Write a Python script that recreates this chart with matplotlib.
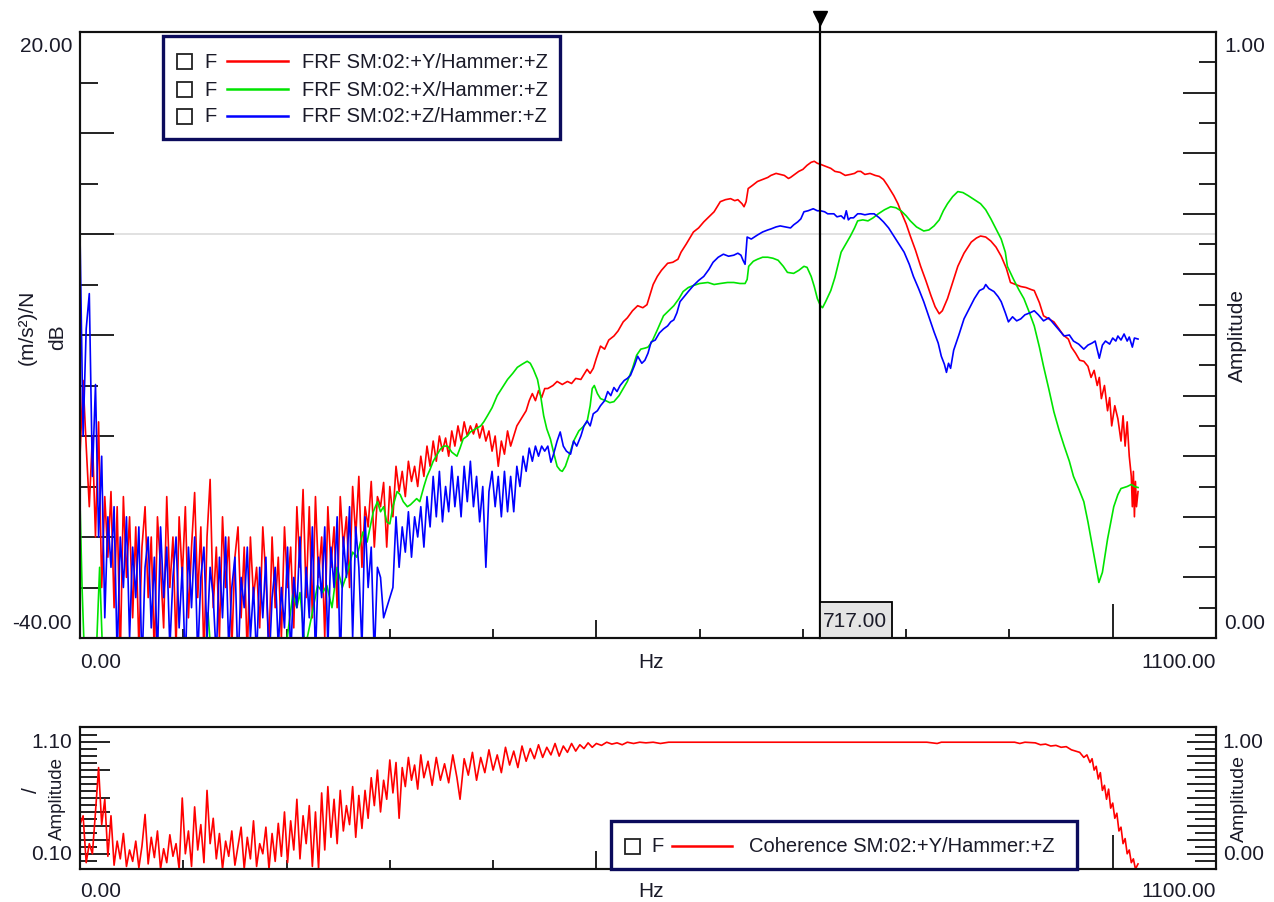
import numpy as np
import matplotlib
matplotlib.use("Agg")
import matplotlib.pyplot as plt
from matplotlib.patches import Rectangle
from matplotlib.lines import Line2D
from matplotlib.transforms import blended_transform_factory

plt.rcParams['font.family'] = ['Liberation Sans', 'DejaVu Sans']

# ------------------------------------------------------------------ data
X_MIN, X_MAX = 0.0, 1100.0
DB_MIN, DB_MAX = -40.0, 20.0
COH_MAX = 1.12
CURSOR_HZ = 717.0
NOISY_DF = 3.0   # Hz spacing of the densely read low-frequency samples

SERIES_LABELS = ["FRF SM:02:+Y/Hammer:+Z", "FRF SM:02:+X/Hammer:+Z", "FRF SM:02:+Z/Hammer:+Z"]
SERIES_COLORS = ["#ff0000", "#00e400", "#0000ff"]
COH_LABEL = "Coherence SM:02:+Y/Hammer:+Z"
COH_COLOR = "#ff0000"

# red (+Y): samples every 3 Hz from 0 to 450 Hz, then read points
red_noisy_db = [
    -22, -14.5, -21, -27, -20, -30, -18.6, -35, -26, -32, -25.5, -37, -27, -42, -26, -34, -28, -38, -29, -41,
    -31, -27, -36, -30, -42, -28, -33, -39, -26, -35, -30, -41, -28, -34, -27, -38, -31, -25.6, -36, -29,
    -42, -30, -24.3, -37, -31, -40, -28, -35, -30, -41, -32, -29, -38, -31, -42, -30, -36, -33, -39, -29,
    -34, -41, -30, -37, -32, -40, -29, -35, -31, -39, -27, -33, -25.3, -36, -27, -38, -26, -34, -30, -40,
    -27, -33, -29, -37, -26, -31, -28, -35, -25, -30, -24, -33, -27, -29, -24.5, -31, -26,
    -27, -24.6, -31, -25, -28, -23, -25.5, -23.5, -26, -22.5, -24.5, -23, -25, -22, -24, -21, -23, -20.5,
    -22.5, -20, -21.5, -20.2, -22, -19.5, -21, -19, -20.5, -18.6, -20, -19, -19.8, -18.8, -20.2, -19, -20.5,
    -19.5, -21.5, -20, -23, -20.5, -21.8, -19.5, -21, -20, -19, -18.5, -18, -17.5, -16.5, -15.8, -16.5,
    -15.5, -16.2, -15.3]
red_hz = [453, 458, 462, 467, 472, 476, 480, 485, 488, 491, 494, 497, 500, 504, 508, 512, 517, 521, 526, 530,
          535, 540, 545, 549, 552, 555, 559, 563, 569, 574, 579, 582, 587, 594, 599, 604, 609, 614, 620, 625,
          630, 634, 637, 641, 643, 645, 647, 651, 656, 661, 666, 669, 674, 678, 682, 686, 688, 692, 696, 700,
          704, 708, 711, 714, 717, 722, 727, 731, 736, 741, 746, 750, 753, 756, 760, 765, 770, 774, 778, 782,
          785, 788, 792, 795, 800, 804, 809, 814, 819, 824, 828, 832, 835, 840, 845, 850, 856, 863, 868, 872,
          877, 882, 887, 892, 897, 901, 906, 911, 916, 921, 924, 929, 933, 938, 943, 948, 952, 957, 960, 964,
          968, 972, 976, 979, 982, 985, 987, 989, 992, 995, 997, 999, 1002, 1005, 1008, 1010, 1012, 1014, 1016,
          1018, 1019, 1020, 1021, 1022, 1023, 1024.5]
red_db = [-15.3, -15.0, -14.6, -14.9, -14.6, -14.8, -14.3, -14.4, -13.9, -13.4, -13.8, -13.3, -12.3, -11.1, -11.4,
          -10.5, -10.1, -9.6, -8.7, -8.3, -7.6, -7.1, -7.3, -7.0, -6.0, -5.0, -4.2, -3.6, -2.9, -2.8, -2.5, -1.8,
          -1.0, 0.2, 0.6, 1.2, 1.7, 2.2, 3.2, 3.4, 3.5, 3.3, 3.4, 3.0, 2.7, 3.2, 4.5, 4.8, 5.2, 5.4, 5.6, 5.8,
          6.0, 5.9, 5.8, 5.5, 5.6, 5.9, 6.2, 6.4, 6.8, 7.1, 7.2, 7.0, 6.9, 6.7, 6.5, 6.2, 6.1, 5.8, 5.9, 6.0,
          6.2, 6.2, 5.9, 6.0, 5.8, 5.7, 5.4, 4.8, 4.3, 3.8, 3.0, 2.2, 1.0, -0.2, -1.6, -3.2, -4.6, -6.1, -7.2,
          -7.9, -7.6, -6.4, -4.8, -3.2, -1.9, -0.8, -0.4, -0.2, -0.3, -0.7, -1.3, -2.2, -3.4, -4.8, -5.0, -5.2,
          -5.3, -5.5, -5.6, -6.8, -8.1, -8.4, -8.7, -9.4, -10.0, -10.4, -11.2, -11.8, -12.5, -12.6, -13.1, -14.2,
          -13.5, -15.0, -14.2, -16.3, -15.0, -17.5, -16.2, -19.0, -17.0, -18.3, -20.5, -18.0, -21.0, -18.6,
          -22.0, -24.0, -27.0, -23.5, -28.0, -24.5, -27.0, -25.5]

# blue (+Z): samples every 3 Hz from 0 to 450 Hz, then read points
blue_noisy_db = [
    0, -20, -9.4, -5.9, -24, -14.9, -30, -22, -38, -28, -33, -27, -42, -30, -35, -28, -40, -31, -36, -29,
    -43, -33, -30, -39, -32, -42, -29, -36, -31, -41, -34, -30, -39, -33, -43, -31, -37, -30, -42, -34,
    -31, -40, -33, -36, -42, -32, -38, -30, -41, -35, -32, -43, -34, -37, -31, -40, -35, -42, -33, -38,
    -32, -43, -36, -33, -41, -35, -39, -31, -42, -34, -37, -30, -41, -33, -38, -29, -42, -32, -36, -29,
    -41, -31, -35, -28, -43, -30, -34, -27, -40, -29, -33, -41, -28, -35, -31, -42, -33,
    -34, -38, -37, -36, -35, -28, -33, -29, -31.5, -27.5, -32, -28, -30, -27, -31, -26, -29, -24, -28,
    -23.5, -28.5, -25, -27.5, -23, -27, -24, -28, -23, -26.5, -22.5, -27, -24, -28.5, -25, -33, -25.5,
    -23.5, -27, -24, -28, -23.5, -27.5, -24, -27.5, -23, -25, -22, -23.5, -21.2, -22.5, -21, -22, -21, -21.5]
blue_hz = [453, 456, 458, 462, 465, 468, 471, 475, 478, 481, 485, 488, 491, 494, 497, 501, 504, 508, 511, 514,
           517, 520, 523, 527, 530, 533, 537, 540, 544, 547, 550, 553, 557, 561, 565, 569, 572, 575, 578, 581,
           585, 589, 594, 599, 604, 609, 613, 618, 623, 628, 633, 637, 640, 642, 644, 646, 650, 656, 661, 666,
           669, 674, 678, 683, 688, 691, 695, 698, 701, 705, 710, 714, 717, 721, 724, 730, 733, 737, 740, 742,
           744, 746, 749, 753, 756, 760, 765, 769, 774, 778, 783, 788, 793, 798, 803, 807, 812, 817, 822, 827,
           831, 834, 837, 839, 841, 843, 846, 851, 856, 861, 866, 871, 875, 877, 880, 885, 889, 892, 896, 899,
           903, 907, 911, 915, 920, 924, 928, 933, 938, 943, 948, 953, 958, 962, 967, 972, 976, 980, 983, 987,
           990, 993, 997, 1000, 1003, 1005, 1008, 1011, 1014, 1016, 1019, 1021, 1024.5]
blue_db = [-21.0, -22.6, -22.0, -20.5, -19.6, -21.0, -21.5, -21.8, -20.5, -21.0, -20.0, -19.0, -18.5, -19.0, -17.8,
           -17.5, -17.0, -16.5, -15.6, -16.0, -15.2, -15.6, -15.0, -14.5, -14.3, -14.0, -13.0, -12.1, -12.8, -12.5,
           -11.8, -10.7, -10.5, -9.8, -9.4, -9.1, -8.7, -8.5, -7.8, -6.7, -6.2, -5.7, -5.1, -4.6, -4.2, -3.5, -2.8,
           -2.3, -2.0, -2.2, -2.1, -1.9, -2.1, -2.6, -3.0, -0.3, -0.5, -0.1, 0.2, 0.4, 0.5, 0.7, 0.8, 0.7, 0.6,
           0.9, 1.2, 1.5, 2.2, 2.3, 2.5, 2.3, 2.3, 2.2, 2.0, 2.0, 1.7, 1.8, 1.5, 2.3, 1.4, 1.6, 1.6, 2.0, 2.0,
           1.9, 2.0, 2.0, 1.6, 1.2, 0.6, -0.2, -1.0, -1.8, -3.0, -4.2, -5.4, -6.7, -8.2, -9.7, -10.8, -12.1,
           -12.9, -13.7, -12.8, -13.3, -11.5, -10.0, -8.4, -7.4, -6.4, -5.6, -5.4, -5.0, -5.4, -5.7, -6.2, -6.7,
           -7.8, -8.7, -8.2, -8.6, -8.4, -8.0, -7.8, -7.6, -8.0, -8.6, -8.3, -8.9, -9.5, -10.1, -10.0, -10.6,
           -10.9, -11.4, -11.0, -10.8, -10.6, -12.3, -11.0, -10.6, -10.9, -10.3, -10.6, -10.1, -10.5, -9.9,
           -10.6, -10.2, -11.2, -10.3, -10.4]

# green (+X): read points (values below -40 dB fall off the chart)
green_hz = [0, 2, 5, 10, 16, 19, 22, 28, 40, 60, 80, 100, 120, 124, 127, 130, 150, 170, 190, 200,
            206, 210, 213, 218, 224, 230, 235, 239, 244, 249, 254, 259, 264, 268, 274, 278, 281, 284, 288, 291,
            294, 297, 300, 303, 307, 310, 313, 317, 320, 323, 326, 329, 333, 336, 339, 342, 346, 349, 352, 356,
            360, 365, 368, 371, 375, 378, 383, 388, 391, 394.5, 399, 404, 409, 414, 419, 423.5, 428, 433, 436, 439,
            443, 446, 449, 452, 455.5, 459, 462, 465, 467, 470, 474, 478, 483, 488, 491, 494, 496, 498, 501, 504,
            509, 513, 517, 522, 526, 530, 535, 539, 543, 547, 550, 553, 555, 559, 565, 570, 575, 580, 584, 589,
            594, 600, 608, 614, 620, 627, 633, 639, 644, 646, 647.5, 652, 656, 661, 666, 671, 676, 681, 685, 691,
            696, 701, 704, 708, 711, 714, 717, 719, 722, 727, 731, 737, 742, 746, 750, 753, 758, 763, 768, 773,
            779, 785, 790, 795, 800, 804, 810, 817, 822, 827, 832, 836, 840, 845, 850, 855, 860, 866, 872, 877,
            882, 887, 892, 896, 898, 904, 909, 914, 919, 924, 929, 933, 938, 943, 948, 953, 958, 962, 967, 972,
            976, 979, 983, 986.6, 990, 995, 1001, 1005, 1008, 1014, 1018, 1021, 1024.5]
green_db = [-26.5, -35, -44, -46, -41, -33, -42, -47, -46, -45, -47, -46, -44, -37.5, -42, -45, -46, -44, -43, -40.5,
            -35.7, -37, -35.5, -41, -38, -34.8, -35.5, -34.8, -37, -33, -35, -33.5, -31.5, -32, -29.5, -30.5, -29,
            -27.5, -26.5, -27.5, -27, -28.5, -28.7, -27, -25.5, -25.8, -26.5, -27, -26.8, -26.5, -26.2, -26.5, -25,
            -24, -23.3, -22.5, -21.8, -21.3, -21.0, -21.0, -21.6, -22.0, -21.2, -20.3, -20.0, -19.6, -19.3, -19.0,
            -18.6, -18.0, -17.2, -16.0, -15.2, -14.4, -13.8, -13.2, -12.9, -12.6, -12.8, -13.4, -14.4, -16.0, -18.0,
            -19.3, -20.3, -21.8, -23.0, -23.4, -23.5, -23.0, -21.8, -20.5, -19.5, -19.0, -18.6, -17.0, -15.3, -15.0,
            -15.8, -16.3, -16.5, -16.7, -16.6, -16.0, -15.3, -14.6, -13.3, -12.0, -11.4, -11.3, -11.2, -10.8, -10.4,
            -9.5, -8.1, -7.6, -7.1, -6.4, -5.7, -5.3, -5.1, -4.9, -4.8, -5.0, -4.9, -4.8, -4.8, -4.9, -4.9, -4.5,
            -3.2, -2.7, -2.5, -2.3, -2.3, -2.4, -2.6, -3.2, -3.8, -3.9, -3.6, -3.2, -3.3, -4.2, -5.2, -6.4, -7.1,
            -7.3, -6.7, -5.6, -4.3, -1.8, -0.9, -0.2, 0.6, 1.3, 1.4, 1.3, 1.6, 2.0, 2.4, 2.7, 2.6, 2.3, 1.8, 1.3,
            0.7, 0.3, 0.4, 0.8, 1.4, 2.3, 3.0, 3.7, 4.2, 4.1, 3.8, 3.4, 3.0, 2.4, 1.5, 0.5, -0.5, -1.8, -3.2, -4.5,
            -5.5, -6.4, -7.7, -9.1, -11.2, -13.1, -15.3, -17.6, -19.4, -21.0, -22.5, -24.0, -25.2, -26.5, -28.5,
            -30.2, -32.5, -34.5, -33.5, -30.2, -27.0, -25.8, -25.2, -25.0, -24.8, -25.0, -25.1]

# coherence: samples every 3 Hz from 0 to 330 Hz, then read points
coh_noisy = [0.35, 0.42, 0.05, 0.2, 0.12, 0.45, 0.8, 0.35, 0.55, 0.1, 0.42, 0.03, 0.22, 0.08, 0.28, 0.02, 0.15,
             0.06, 0.22, 0.01, 0.18, 0.43, 0.04, 0.25, 0.09, 0.3, 0.0, 0.16, 0.05, 0.27, 0.1, 0.2, 0.0, 0.56, 0.12,
             0.3, 0.02, 0.49, 0.15, 0.35, 0.05, 0.62, 0.2, 0.4, 0.08, 0.28, 0.0, 0.22, 0.1, 0.3, 0.03, 0.18, 0.33,
             0.0, 0.25, 0.08, 0.38, 0.02, 0.2, 0.12, 0.33, 0.0, 0.28, 0.06, 0.36, 0.1, 0.45, 0.05, 0.38, 0.15,
             0.55, 0.08, 0.42, 0.2, 0.5, 0.02, 0.45, 0.0, 0.6, 0.15, 0.65, 0.25, 0.55, 0.2, 0.62, 0.3, 0.5, 0.35,
             0.65, 0.25, 0.58, 0.32, 0.62, 0.4, 0.72, 0.5, 0.78, 0.45, 0.7, 0.55, 0.86, 0.6, 0.84, 0.4, 0.8, 0.65,
             0.88, 0.7, 0.82, 0.63, 0.9]
coh_hz = [333, 337, 341, 345, 349, 353, 357, 361, 365, 368, 372, 376, 380, 384, 388, 392, 396, 400, 404, 408,
          412, 416, 420, 424, 428, 432, 436, 440, 444, 448, 452, 456, 460, 464, 468, 472, 476, 480, 484, 488,
          492, 496, 500, 505, 510, 515, 520, 525, 530, 536, 542, 548, 555, 562, 570, 600, 650, 700, 760, 820,
          830, 834, 880, 905, 910, 915, 925, 930, 935, 940, 945, 950, 955, 960, 964, 968, 972, 975, 978, 980,
          982, 984, 986, 988, 990, 992, 994, 996, 998, 1000, 1002, 1004, 1006, 1008, 1010, 1012, 1014, 1016,
          1018, 1020, 1022, 1024.5]
coh_val = [0.72, 0.85, 0.66, 0.88, 0.7, 0.83, 0.68, 0.9, 0.72, 0.55, 0.87, 0.74, 0.92, 0.7, 0.88, 0.76, 0.94,
           0.78, 0.9, 0.76, 0.96, 0.82, 0.93, 0.8, 0.97, 0.85, 0.95, 0.87, 0.98, 0.88, 0.96, 0.9, 0.99, 0.89,
           0.97, 0.92, 0.99, 0.93, 0.98, 0.95, 0.995, 0.96, 0.99, 0.975, 1.0, 0.985, 0.995, 0.98, 1.0, 0.99,
           1.0, 0.995, 1.0, 0.99, 1.0, 1.0, 1.0, 1.0, 1.0, 1.0, 0.99, 1.0, 1.0, 1.0, 0.99, 1.0, 0.995, 0.98,
           0.985, 0.97, 0.975, 0.96, 0.965, 0.94, 0.93, 0.92, 0.88, 0.9, 0.84, 0.87, 0.78, 0.81, 0.71, 0.76,
           0.62, 0.66, 0.55, 0.63, 0.48, 0.52, 0.4, 0.44, 0.3, 0.33, 0.2, 0.24, 0.12, 0.15, 0.05, 0.08, 0.0, 0.04]

X_TICKS_MINOR = [100, 200, 300, 400, 600, 700, 800, 900]
X_TICKS_MAJOR = [500, 1000]
DB_TICKS_MAJOR = [-30, -20, -10, 0, 10]
DB_TICKS_MINOR = [-35, -25, -15, -5, 5, 15]
AMP_TICKS_MAJOR = [0.1, 0.2, 0.3, 0.4, 0.5, 0.6, 0.7, 0.8, 0.9]
AMP_TICKS_MINOR = [0.05, 0.15, 0.25, 0.35, 0.45, 0.55, 0.65, 0.75, 0.85, 0.95]

# ------------------------------------------------------------------ assemble series
red_f = np.concatenate([np.arange(len(red_noisy_db)) * NOISY_DF, red_hz])
red_v = np.concatenate([red_noisy_db, red_db])
blue_f = np.concatenate([np.arange(len(blue_noisy_db)) * NOISY_DF, blue_hz])
blue_v = np.concatenate([blue_noisy_db, blue_db])
coh_f = np.concatenate([np.arange(len(coh_noisy)) * NOISY_DF, coh_hz])
coh_v = np.concatenate([coh_noisy, coh_val])

# ------------------------------------------------------------------ figure
W, H, DPI = 1274, 903, 100
fig = plt.figure(figsize=(W / DPI, H / DPI), dpi=DPI, facecolor="white")

TXT = "#1a1a28"
NAVY = "#0b0b5c"
FS = 15
LFS = 14.5
SPINE_LW = 1.5
TICK_LW = 1.3
LW = 1.2


def px_rect(l, t, r, b):
    return [l / W, 1 - b / H, (r - l) / W, (b - t) / H]


def frame(a):
    for s in a.spines.values():
        s.set_linewidth(SPINE_LW)
        s.set_color("#111111")


def xticks(a):
    a.set_xticks(X_TICKS_MAJOR)
    a.set_xticks(X_TICKS_MINOR, minor=True)
    a.tick_params(axis="x", which="major", direction="in", length=13, width=TICK_LW,
                  labelbottom=False, top=False, color="#111111")
    a.tick_params(axis="x", which="minor", direction="in", length=6.5, width=TICK_LW,
                  top=False, color="#111111")
    a.xaxis.get_major_ticks()[1].tick1line.set_markersize(24.5)


# ---------------- top FRF axes
ax = fig.add_axes(px_rect(80, 33, 1216, 639))
ax.set_xlim(X_MIN, X_MAX)
ax.set_ylim(DB_MIN, DB_MAX)
frame(ax)
ax.axhline(0, color="#dcdcdc", lw=1.2, zorder=1)
ax.plot(red_f, red_v, color=SERIES_COLORS[0], lw=LW, zorder=2)
ax.plot(green_hz, green_db, color=SERIES_COLORS[1], lw=LW, zorder=3)
ax.plot(blue_f, blue_v, color=SERIES_COLORS[2], lw=LW, zorder=4)
xticks(ax)
ax.set_yticks(DB_TICKS_MAJOR)
ax.set_yticks(DB_TICKS_MINOR, minor=True)
ax.tick_params(axis="y", which="major", direction="in", length=24.5, width=TICK_LW,
               labelleft=False, right=False, color="#111111")
ax.tick_params(axis="y", which="minor", direction="in", length=13, width=TICK_LW,
               right=False, color="#111111")

axr = ax.twinx()
axr.set_ylim(0, 1)
frame(axr)
axr.set_yticks(AMP_TICKS_MAJOR)
axr.set_yticks(AMP_TICKS_MINOR, minor=True)
axr.tick_params(axis="y", which="major", direction="in", length=23.8, width=TICK_LW,
                labelright=False, color="#111111")
axr.tick_params(axis="y", which="minor", direction="in", length=12.2, width=TICK_LW,
                color="#111111")

# cursor
trans = blended_transform_factory(ax.transData, ax.transAxes)
ax.axvline(CURSOR_HZ, ymin=0, ymax=1.012, color="black", lw=1.6, clip_on=False, zorder=6)
ax.plot([CURSOR_HZ], [1.023], marker="v", ms=10, color="black", transform=trans,
        clip_on=False, zorder=7)
box_w = 72 * (X_MAX - X_MIN) / 1136
ax.add_patch(Rectangle((CURSOR_HZ, 0), box_w, 36 / 606, transform=trans, facecolor="#e4e4e4",
                       edgecolor="black", lw=1.3, zorder=7, clip_on=False))
ax.text(CURSOR_HZ + 2.5, 0.029, f"{CURSOR_HZ:.2f}", transform=trans, ha="left", va="center",
        fontsize=FS, color=TXT, zorder=8)

# top axes texts
ax.text(-0.007, 0.9785, f"{DB_MAX:.2f}", transform=ax.transAxes, ha="right", va="center", fontsize=FS, color=TXT)
ax.text(-0.007, 0.025, f"{DB_MIN:.2f}", transform=ax.transAxes, ha="right", va="center", fontsize=FS, color=TXT)
ax.text(1.007, 0.9785, "1.00", transform=ax.transAxes, ha="left", va="center", fontsize=FS, color=TXT)
ax.text(1.007, 0.025, "0.00", transform=ax.transAxes, ha="left", va="center", fontsize=FS, color=TXT)
ax.text(0.0, -0.038, f"{X_MIN:.2f}", transform=ax.transAxes, ha="left", va="center", fontsize=FS, color=TXT)
ax.text(0.5026, -0.038, "Hz", transform=ax.transAxes, ha="center", va="center", fontsize=FS, color=TXT)
ax.text(1.0, -0.038, f"{X_MAX:.2f}", transform=ax.transAxes, ha="right", va="center", fontsize=FS, color=TXT)
ax.text(-0.0467, 0.515, "(m/s²)/N", transform=ax.transAxes, ha="center", va="center", rotation=90,
        fontsize=FS, color=TXT)
ax.text(-0.0194, 0.498, "dB", transform=ax.transAxes, ha="center", va="center", rotation=90,
        fontsize=FS, color=TXT)
ax.text(1.0185, 0.5, "Amplitude", transform=ax.transAxes, ha="center", va="center", rotation=90,
        fontsize=FS, color=TXT)

# ---------------- bottom coherence axes
axc = fig.add_axes(px_rect(80, 728, 1216, 870))
axc.set_xlim(X_MIN, X_MAX)
axc.set_ylim(0, COH_MAX)
frame(axc)
axc.plot(coh_f, coh_v, color=COH_COLOR, lw=LW, zorder=3)
xticks(axc)

tick_fracs = [0.106 + 0.04925 * k for k in range(-1, 18)]
left_major_k = {0, 2, 4, 6, 8, 12, 16}
lmaj = [tick_fracs[k + 1] * COH_MAX for k in range(-1, 18) if k in left_major_k]
lmin = [tick_fracs[k + 1] * COH_MAX for k in range(-1, 18) if k not in left_major_k]
axc.set_yticks(lmaj)
axc.set_yticks(lmin, minor=True)
axc.tick_params(axis="y", which="major", direction="in", length=21.6, width=TICK_LW,
                labelleft=False, right=False, color="#111111")
axc.tick_params(axis="y", which="minor", direction="in", length=12.2, width=TICK_LW,
                right=False, color="#111111")

axcr = axc.twinx()
axcr.set_ylim(0, 1)
frame(axcr)
axcr.set_yticks([tick_fracs[k + 1] for k in range(-1, 18) if k % 2 == 0])
axcr.set_yticks([tick_fracs[k + 1] for k in range(-1, 18) if k % 2 != 0], minor=True)
axcr.tick_params(axis="y", which="major", direction="in", length=20.9, width=TICK_LW,
                 labelright=False, color="#111111")
axcr.tick_params(axis="y", which="minor", direction="in", length=15, width=TICK_LW,
                 color="#111111")

axc.text(-0.007, 0.901, "1.10", transform=axc.transAxes, ha="right", va="center", fontsize=FS, color=TXT)
axc.text(-0.007, 0.106, "0.10", transform=axc.transAxes, ha="right", va="center", fontsize=FS, color=TXT)
axc.text(1.006, 0.901, "1.00", transform=axc.transAxes, ha="left", va="center", fontsize=FS, color=TXT)
axc.text(1.006, 0.106, "0.00", transform=axc.transAxes, ha="left", va="center", fontsize=FS, color=TXT)
axc.text(0.0, -0.148, f"{X_MIN:.2f}", transform=axc.transAxes, ha="left", va="center", fontsize=FS, color=TXT)
axc.text(0.5026, -0.148, "Hz", transform=axc.transAxes, ha="center", va="center", fontsize=FS, color=TXT)
axc.text(1.0, -0.148, f"{X_MAX:.2f}", transform=axc.transAxes, ha="right", va="center", fontsize=FS, color=TXT)
axc.text(-0.0431, 0.56, "/", transform=axc.transAxes, ha="center", va="center", rotation=90,
         fontsize=FS, color=TXT)
axc.text(-0.0202, 0.50, "Amplitude", transform=axc.transAxes, ha="center", va="center", rotation=90,
         fontsize=13.5, color=TXT)
axc.text(1.021, 0.5, "Amplitude", transform=axc.transAxes, ha="center", va="center", rotation=90,
         fontsize=14, color=TXT)


# ---------------- legends (drawn in figure pixels)
def legend(box, rows, chk_x, f_x, line_x0, line_x1, text_x):
    l, t, r, b = box
    fig.add_artist(Rectangle((l / W, 1 - b / H), (r - l) / W, (b - t) / H, transform=fig.transFigure,
                             facecolor="white", edgecolor=NAVY, lw=2.4, zorder=10))
    for y, color, label in rows:
        fig.add_artist(Rectangle((chk_x / W, 1 - (y + 7.5) / H), 15 / W, 15 / H, transform=fig.transFigure,
                                 facecolor="white", edgecolor="#222222", lw=1.3, zorder=11))
        fig.text(f_x / W, 1 - y / H, "F", ha="left", va="center", fontsize=LFS, color=TXT, zorder=12)
        fig.add_artist(Line2D([line_x0 / W, line_x1 / W], [1 - y / H, 1 - y / H], transform=fig.transFigure,
                              color=color, lw=1.8, zorder=11))
        fig.text(text_x / W, 1 - y / H, label, ha="left", va="center", fontsize=LFS, color=TXT, zorder=12)


legend((163, 37, 560, 140),
       [(62, SERIES_COLORS[0], SERIES_LABELS[0]),
        (90, SERIES_COLORS[1], SERIES_LABELS[1]),
        (117, SERIES_COLORS[2], SERIES_LABELS[2])],
       177, 204, 227, 288, 302)
legend((611, 822, 1077, 870), [(847, COH_COLOR, COH_LABEL)], 625, 651, 672, 732, 749)

fig.savefig("out.png", dpi=DPI, facecolor="white")
